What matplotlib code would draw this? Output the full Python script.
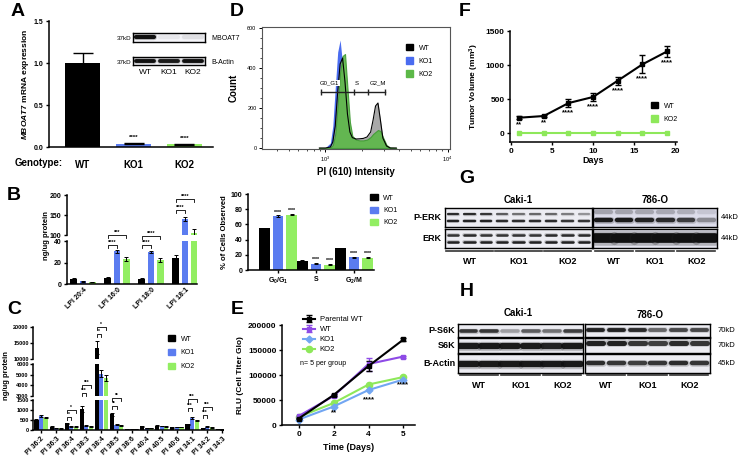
import matplotlib
matplotlib.use("Agg")
import matplotlib.pyplot as plt
import matplotlib.transforms as mtransforms
from matplotlib.patches import Patch
import numpy as np

plt.rcParams["font.family"] = ["Liberation Sans", "DejaVu Sans"]
plt.rcParams["font.weight"] = "bold"
plt.rcParams["axes.labelweight"] = "bold"
plt.rcParams["mathtext.fontset"] = "custom"
plt.rcParams["mathtext.rm"] = "Liberation Sans:bold"
plt.rcParams["mathtext.it"] = "Liberation Sans:bold:italic"
plt.rcParams["mathtext.bf"] = "Liberation Sans:bold"

W, H = 745, 461
WT_C = "#000000"
KO1_C = "#5b7cf0"
KO2_C = "#92ee62"

# ---- A: MBOAT7 mRNA + inset blot
genotypes = ["WT", "KO1", "KO2"]
mboat7_mrna = [1.0, 0.04, 0.03]
mboat7_err = [0.12, 0.01, 0.01]
mboat7_sig = ["", "****", "****"]
blot_a_mboat7 = [1.0, 0.05, 0.08]
blot_a_actin = [1.0, 0.95, 1.0]

# ---- B: LPI species
lpi_species = ["LPI 20:4", "LPI 16:0", "LPI 18:0", "LPI 18:1"]
lpi_wt = [5, 5.5, 5, 24]
lpi_ko1 = [2.5, 30.5, 29.5, 140]
lpi_ko2 = [2, 23, 22.5, 105]
lpi_wt_err = [1, 1, 1, 3]
lpi_ko1_err = [0.5, 1.5, 1, 4]
lpi_ko2_err = [0.3, 2, 2, 10]
lpi_sig_idx = [1, 2, 3]
lpi_sig_inner = ["****", "****", "****"]
lpi_sig_outer = ["***", "****", "****"]

# ---- C: PI species
pi_species = ["PI 36:2", "PI 36:3", "PI 36:4", "PI 38:3", "PI 38:4", "PI 38:5",
              "PI 38:6", "PI 40:4", "PI 40:5", "PI 40:6", "PI 34:1", "PI 34:2", "PI 34:3"]
pi_wt = [520, 170, 330, 1050, 13500, 780, 50, 180, 220, 140, 280, 100, 40]
pi_ko1 = [700, 90, 180, 210, 5100, 260, 50, 110, 200, 150, 600, 170, 30]
pi_ko2 = [620, 80, 160, 190, 4700, 240, 50, 90, 170, 150, 490, 140, 30]
pi_wt_err = [40, 20, 40, 150, 2000, 80, 10, 20, 20, 20, 30, 10, 5]
pi_ko1_err = [30, 10, 20, 20, 300, 20, 5, 10, 20, 20, 40, 20, 5]
pi_ko2_err = [30, 10, 20, 20, 250, 20, 5, 10, 20, 20, 30, 20, 5]
pi_sig_idx = [2, 3, 4, 5, 10, 11]
pi_sig_text = ["*", "***", "*", "**", "***", "***"]

# ---- D: PI histogram (log10 intensity vs count) and cell cycle bars
hist_log_pi = [2.95, 3.00, 3.04, 3.06, 3.08, 3.10, 3.12, 3.14, 3.16, 3.18, 3.20, 3.22, 3.25,
               3.28, 3.31, 3.34, 3.37, 3.39, 3.41, 3.43, 3.45, 3.47, 3.50, 3.53, 3.58]
hist_wt = [0, 0, 5, 30, 110, 280, 420, 450, 330, 170, 80, 52, 45,
           46, 48, 55, 80, 140, 210, 225, 140, 50, 10, 0, 0]
hist_ko1 = [0, 2, 25, 110, 300, 480, 540, 420, 250, 120, 65, 42, 32,
            30, 32, 40, 65, 90, 100, 85, 45, 15, 3, 0, 0]
hist_ko2 = [0, 0, 3, 15, 70, 220, 380, 460, 470, 300, 130, 60, 42,
            38, 38, 42, 55, 70, 80, 90, 85, 55, 15, 2, 0]
gate_names = ["G0_G1", "S", "G2_M"]
gate_edges_log = [2.967, 3.23, 3.352, 3.484]
gate_label_log = [3.03, 3.255, 3.43]
gate_count = 280

phases = [r"G$_0$/G$_1$", "S", r"G$_2$/M"]
cycle_wt = [55, 12, 29]
cycle_ko1 = [71, 8, 17]
cycle_ko2 = [73, 7, 16]
cycle_err = [0.8, 0.6, 0.6]

# ---- E: proliferation
days_e = [0, 2, 4, 5]
rlu_parental = [13000, 60000, 118000, 171000]
rlu_wt = [18000, 58000, 122000, 137000]
rlu_ko1 = [11000, 37000, 70000, 91000]
rlu_ko2 = [16000, 44000, 81000, 96000]
rlu_parental_err = [1000, 2000, 10000, 3000]
rlu_wt_err = [1000, 2000, 13000, 2000]
rlu_sig = ["", "**", "****", "****"]
rlu_sig_y = [0, 24000, 50000, 80000]

# ---- F: tumor volume
days_f = [1, 4, 7, 10, 13, 16, 19]
tumor_wt = [225, 250, 440, 530, 770, 1010, 1200]
tumor_wt_err = [20, 20, 60, 55, 60, 130, 80]
tumor_ko2 = [0, 0, 0, 0, 0, 0, 0]
tumor_sig = ["**", "**", "****", "****", "****", "****", "****"]

# ---- G / H: blot band intensities per lane
g_caki_perk_up = [0.85, 0.85, 0.8, 0.6, 0.5, 0.55, 0.55, 0.45, 0.35]
g_caki_perk_lo = [0.9, 0.9, 0.9, 0.85, 0.85, 0.85, 0.85, 0.8, 0.8]
g_caki_erk_up = [0.8, 0.85, 0.8, 0.8, 0.8, 0.8, 0.85, 0.85, 0.85]
g_caki_erk_lo = [0.9, 0.9, 0.9, 0.9, 0.9, 0.9, 0.9, 0.9, 0.9]
g_786_perk = [0.95, 0.95, 0.9, 0.85, 0.75, 0.35]
g_786_erk = [1.0, 1.0, 1.0, 1.0, 1.0, 1.0]
h_caki_ps6k = [0.8, 0.8, 0.3, 0.6, 0.5, 0.75]
h_caki_s6k = [0.95, 0.95, 0.95, 0.95, 0.9, 0.95]
h_caki_actin = [0.95, 0.95, 0.95, 0.95, 0.95, 0.95]
h_786_ps6k = [0.9, 0.9, 0.85, 0.55, 0.7, 0.7]
h_786_s6k = [0.9, 0.9, 0.8, 0.75, 0.85, 0.8]
h_786_actin = [0.85, 0.8, 0.75, 0.8, 0.85, 0.8]

fig = plt.figure(figsize=(W / 100, H / 100), dpi=100)


def add_ax(left, top, right, bottom):
    ax = fig.add_axes([left / W, 1 - bottom / H, (right - left) / W, (bottom - top) / H])
    ax.patch.set_alpha(0)
    return ax


def fy(py):
    return 1 - py / H


def blend(ax):
    return mtransforms.blended_transform_factory(ax.transData, fig.transFigure)


def prism(ax, fs=5, bottom=True):
    ax.spines[["top", "right"]].set_visible(False)
    for s in ("left", "bottom"):
        ax.spines[s].set_linewidth(1.1)
    ax.tick_params(width=1.0, length=2.5, labelsize=fs, pad=1.5)
    if not bottom:
        ax.spines["bottom"].set_visible(False)
        ax.tick_params(axis="x", length=0, labelbottom=False)


def bracket(ax, x0, x1, py, text, leg=3, fs=4):
    tr = blend(ax)
    ax.plot([x0, x0, x1, x1], [fy(py + leg), fy(py), fy(py), fy(py + leg)],
            color="black", lw=0.6, transform=tr, clip_on=False)
    ax.text((x0 + x1) / 2, fy(py - 0.3), text, ha="center", va="bottom",
            fontsize=fs, transform=tr)


def blot(left, top, right, bottom, rows, bg="#ececf2", half=0.32):
    ax = add_ax(left, top, right, bottom)
    ax.patch.set_alpha(1)
    ax.set_facecolor(bg)
    n = len(rows[0][1])
    ax.set_xlim(-0.5, n - 0.5)
    ax.set_ylim(0, 1)
    ax.set_xticks([])
    ax.set_yticks([])
    for s in ax.spines.values():
        s.set_linewidth(1.0)
    for y, levels, width in rows:
        for i, level in enumerate(levels):
            ax.plot([i - half, i + half], [y, y], color="#222222", lw=width * 1.5,
                    alpha=level * 0.25, solid_capstyle="round")
            ax.plot([i - half, i + half], [y, y], color="#111111", lw=width,
                    alpha=level, solid_capstyle="round")
    return ax


def lane_groups(ax, per_group, labels, line_py, label_py, fs=6.5):
    tr = blend(ax)
    for g, lab in enumerate(labels):
        x0 = g * per_group - 0.42
        x1 = g * per_group + per_group - 1 + 0.42
        ax.plot([x0, x1], [fy(line_py)] * 2, color="#333333", lw=1.2,
                transform=tr, clip_on=False)
        ax.text((x0 + x1) / 2, fy(label_py), lab, ha="center", va="center",
                fontsize=fs, transform=tr)


def grouped_bars(ax, x, series, errs, width, offset):
    colors = [WT_C, KO1_C, KO2_C]
    for k, (vals, err) in enumerate(zip(series, errs)):
        ax.bar(x + (k - 1) * offset, vals, width=width, color=colors[k],
               yerr=err, error_kw=dict(elinewidth=0.7, capsize=1.2, capthick=0.7, ecolor="black"))


# ================= A =================
axA = add_ax(49, 21, 213, 147)
xa = np.arange(len(genotypes))
axA.bar(xa, mboat7_mrna, width=0.69, color=[WT_C, KO1_C, KO2_C],
        yerr=mboat7_err, error_kw=dict(elinewidth=1.0, capsize=7, capthick=1.0))
for i, s in enumerate(mboat7_sig):
    if s:
        axA.text(i, mboat7_mrna[i] + mboat7_err[i] + 0.03, s, ha="center", va="bottom", fontsize=4.5)
prism(axA, fs=5)
axA.set_xlim(-0.66, 2.56)
axA.set_ylim(0, 1.5)
axA.set_yticks([0, 0.5, 1.0, 1.5])
axA.set_yticklabels(["0.0", "0.5", "1.0", "1.5"])
axA.set_xticks(xa)
axA.set_xticklabels(genotypes, fontsize=7)
axA.tick_params(axis="x", length=0, pad=9)
axA.set_ylabel(r"$\it{MBOAT7}$ mRNA expression", fontsize=6, labelpad=2)
fig.text(15 / W, fy(163), "Genotype:", fontsize=7, va="center")

ba1 = blot(133, 33, 205, 42, [(0.5, blot_a_mboat7, 3.0)], bg="#f6f6fa", half=0.36)
ba2 = blot(133, 57, 205, 65, [(0.5, blot_a_actin, 2.8)], bg="#f6f6fa", half=0.36)
fig.text(131 / W, fy(38), "37kD", fontsize=4.5, ha="right", va="center", weight="normal")
fig.text(131 / W, fy(62), "37kD", fontsize=4.5, ha="right", va="center", weight="normal")
fig.text(211 / W, fy(38), "MBOAT7", fontsize=5, va="center", weight="normal")
fig.text(211 / W, fy(62), "B-Actin", fontsize=5, va="center", weight="normal")
for i, g in enumerate(genotypes):
    ba2.text(i, fy(73), g, transform=blend(ba2), ha="center", va="center", fontsize=6, weight="normal")

# ================= B =================
xb = np.arange(len(lpi_species))
axBt = add_ax(67, 195, 197, 235)
axBb = add_ax(67, 241, 197, 284)
for ax in (axBt, axBb):
    grouped_bars(ax, xb, [lpi_wt, lpi_ko1, lpi_ko2], [lpi_wt_err, lpi_ko1_err, lpi_ko2_err], 0.2, 0.27)
    ax.set_xlim(-0.47, 3.35)
prism(axBt, fs=5, bottom=False)
prism(axBb, fs=5)
axBt.set_ylim(100, 200)
axBt.set_yticks([100, 150, 200])
axBb.set_ylim(0, 40)
axBb.set_yticks([0, 20, 40])
axBb.set_xticks(xb)
axBb.set_xticklabels(lpi_species, rotation=45, ha="right", rotation_mode="anchor", fontsize=5)
axBb.tick_params(axis="x", length=0)
fig.text(46 / W, fy(236), "ng/ug protein", rotation=90, fontsize=5.5, ha="center", va="center")
b_inner_py = [245, 245, 210]
b_outer_py = [235, 236, 199]
for j, gi in enumerate(lpi_sig_idx):
    bracket(axBb, gi - 0.27, gi, b_inner_py[j], lpi_sig_inner[j])
    bracket(axBb, gi - 0.27, gi + 0.27, b_outer_py[j], lpi_sig_outer[j])

# ================= C =================
xc = np.arange(len(pi_species))
axCt = add_ax(33, 327, 223, 359)
axCm = add_ax(33, 364, 223, 396)
axCb = add_ax(33, 400, 223, 430)
for ax in (axCt, axCm, axCb):
    grouped_bars(ax, xc, [pi_wt, pi_ko1, pi_ko2], [pi_wt_err, pi_ko1_err, pi_ko2_err], 0.27, 0.3)
    ax.set_xlim(-0.53, 12.05)
prism(axCt, fs=4, bottom=False)
prism(axCm, fs=4, bottom=False)
prism(axCb, fs=4)
for ax in (axCt, axCm, axCb):
    ax.tick_params(axis="y", pad=1, length=2)
axCt.set_ylim(10000, 20000)
axCt.set_yticks([10000, 15000, 20000])
axCm.set_ylim(3000, 6000)
axCm.set_yticks([3000, 4000, 5000, 6000])
axCb.set_ylim(0, 1500)
axCb.set_yticks([0, 500, 1000, 1500])
axCb.set_xticks(xc)
axCb.set_xticklabels(pi_species, rotation=45, ha="right", rotation_mode="anchor", fontsize=5)
fig.text(6 / W, fy(376), "ng/ug protein", rotation=90, fontsize=5.5, ha="center", va="center")
c_inner_py = [417, 393, 334, 406, 408, 415]
c_outer_py = [410, 385, 327, 398, 399, 407]
for j, gi in enumerate(pi_sig_idx):
    bracket(axCb, gi - 0.3, gi, c_inner_py[j], pi_sig_text[j], leg=2.5, fs=3.5)
    bracket(axCb, gi - 0.3, gi + 0.3, c_outer_py[j], pi_sig_text[j], leg=2.5, fs=3.5)
axCt.legend(handles=[Patch(color=c) for c in (WT_C, KO1_C, KO2_C)], labels=genotypes,
            loc="upper left", bbox_to_anchor=(162 / W, fy(329)), bbox_transform=fig.transFigure,
            frameon=False, handlelength=1.0, handleheight=1.0, labelspacing=0.9,
            prop=dict(weight="normal", size=5))

# ================= D histogram =================
axD = add_ax(262, 27, 450, 149)
xh = 10 ** np.array(hist_log_pi)
axD.fill_between(xh, hist_ko1, color="#4a6cf0", lw=0)
axD.fill_between(xh, hist_wt, color="#a9a9a9", lw=0)
axD.fill_between(xh, hist_ko2, color="#5cb848", alpha=0.9, lw=0.8, edgecolor="#3f9a33")
axD.plot(xh, hist_wt, color="black", lw=0.8)
axD.set_xscale("log")
axD.set_xlim(10 ** 2.48, 10 ** 4.02)
axD.set_ylim(-5, 605)
axD.set_yticks([0, 200, 400, 600])
axD.set_yticks(np.arange(0, 601, 50), minor=True)
for s in axD.spines.values():
    s.set_linewidth(0.8)
    s.set_color("#555555")
axD.tick_params(labelsize=4, width=0.7, length=2.5, pad=1.5)
axD.tick_params(which="minor", width=0.5, length=1.5)
for lab in axD.get_xticklabels() + axD.get_yticklabels():
    lab.set_fontweight("normal")
gx = 10 ** np.array(gate_edges_log)
axD.plot(gx, [gate_count] * len(gx), color="#222222", lw=1.0, marker="|", ms=5, mew=1.0)
for name, lg in zip(gate_names, gate_label_log):
    axD.text(10 ** lg, gate_count + 45, name, ha="center", va="center", fontsize=4.3,
             weight="normal", bbox=dict(facecolor="white", edgecolor="none", pad=0.5))
axD.set_ylabel("Count", fontsize=7, labelpad=6)
axD.set_xlabel("PI (610) Intensity", fontsize=7, labelpad=2)
axD.legend(handles=[Patch(color="black"), Patch(color="#4a6cf0"), Patch(color="#5cb848")],
           labels=genotypes, loc="upper left", bbox_to_anchor=(400 / W, fy(38)),
           bbox_transform=fig.transFigure, frameon=False, handlelength=1.0, handleheight=1.0,
           labelspacing=0.8, prop=dict(weight="normal", size=5))

# ================= D cell cycle bars =================
axDb = add_ax(248, 194, 374, 270)
xd = np.arange(len(phases))
grouped_bars(axDb, xd, [cycle_wt, cycle_ko1, cycle_ko2], [cycle_err] * 3, 0.28, 0.36)
for k, vals in enumerate([cycle_ko1, cycle_ko2]):
    for i, v in enumerate(vals):
        axDb.text(i + k * 0.36, v + 2, "****", ha="center", va="bottom", fontsize=3.8)
prism(axDb, fs=5)
axDb.set_xlim(-0.79, 2.53)
axDb.set_ylim(0, 100)
axDb.set_yticks(range(0, 101, 20))
axDb.set_xticks(xd)
axDb.set_xticklabels(phases, fontsize=5)
axDb.set_ylabel("% of Cells Observed", fontsize=5.5, labelpad=2)
axDb.legend(handles=[Patch(color=c) for c in (WT_C, KO1_C, KO2_C)], labels=genotypes,
            loc="upper left", bbox_to_anchor=(364 / W, fy(188)), bbox_transform=fig.transFigure,
            frameon=False, handlelength=1.1, handleheight=1.0, labelspacing=0.7,
            prop=dict(weight="normal", size=5))

# ================= E =================
axE = add_ax(282, 325, 415, 425)
xe = np.arange(len(days_e))
axE.plot(xe, rlu_ko2, color="#8ee85a", lw=1.5, marker="o", ms=4.5, label="KO2")
axE.plot(xe, rlu_ko1, color="#72a6f2", lw=1.5, marker="D", ms=3.5, label="KO1")
axE.errorbar(xe, rlu_wt, yerr=rlu_wt_err, color="#8e4be6", lw=1.5, marker="s", ms=3.5,
             capsize=2.5, elinewidth=1.0, label="WT")
axE.errorbar(xe, rlu_parental, yerr=rlu_parental_err, color="black", lw=1.5, marker="s", ms=3,
             capsize=2.5, elinewidth=1.0, label="Parental WT")
for i, s in enumerate(rlu_sig):
    if s:
        axE.text(i, rlu_sig_y[i], s, ha="center", va="center", fontsize=5.5)
prism(axE, fs=6)
axE.set_xlim(-0.48, 3.33)
axE.set_ylim(0, 200000)
axE.set_yticks(range(0, 200001, 50000))
axE.set_xticks(xe)
axE.set_xticklabels([str(d) for d in days_e])
axE.set_ylabel("RLU (Cell Titer Glo)", fontsize=6, labelpad=3)
axE.set_xlabel("Time (Days)", fontsize=6.5, labelpad=4)
h_e, l_e = axE.get_legend_handles_labels()
order = [3, 2, 1, 0]
axE.legend([h_e[i] for i in order], [l_e[i] for i in order], loc="upper left",
           bbox_to_anchor=(296 / W, fy(309)), bbox_transform=fig.transFigure, frameon=False,
           handlelength=1.6, labelspacing=0.35, handletextpad=0.6,
           prop=dict(weight="normal", size=5.5))
fig.text(300 / W, fy(363), "n= 5 per group", fontsize=5, va="center", weight="normal")

# ================= F =================
axF = add_ax(510, 31, 677, 142)
axF.errorbar(days_f, tumor_wt, yerr=tumor_wt_err, color="black", lw=1.5, marker="s", ms=3,
             capsize=2.5, elinewidth=1.0, label="WT")
axF.plot(days_f, tumor_ko2, color="#8ee85a", lw=1.5, marker="s", ms=3, label="KO2")
for d, v, e, s in zip(days_f, tumor_wt, tumor_wt_err, tumor_sig):
    axF.text(d, v - e - 30, s, ha="center", va="top", fontsize=5.5)
prism(axF, fs=6)
axF.set_xlim(-0.1, 20.2)
axF.set_ylim(-132, 1500)
axF.set_yticks([0, 500, 1000, 1500])
axF.set_xticks([0, 5, 10, 15, 20])
axF.set_ylabel(r"Tumor Volume (mm$^3$)", fontsize=6, labelpad=3)
axF.set_xlabel("Days", fontsize=6.5, labelpad=1)
axF.legend(handles=[Patch(color="black"), Patch(color="#8ee85a")], labels=["WT", "KO2"],
           loc="upper left", bbox_to_anchor=(645 / W, fy(96)), bbox_transform=fig.transFigure,
           frameon=False, handlelength=1.0, handleheight=1.0, labelspacing=0.8,
           prop=dict(weight="normal", size=5))

# ================= G =================
gc1 = blot(445, 208, 592, 227, [(0.68, g_caki_perk_up, 1.6), (0.32, g_caki_perk_lo, 1.7)])
gc2 = blot(445, 229, 592, 248, [(0.7, g_caki_erk_up, 1.8), (0.3, g_caki_erk_lo, 1.8)])
go1 = blot(593, 208, 717, 227, [(0.78, [v * 0.25 for v in g_786_perk], 3.0),
                                (0.38, g_786_perk, 3.2)], bg="#dcdcea", half=0.36)
go2 = blot(593, 229, 717, 248, [(0.5, g_786_erk, 7.0)], bg="#e4e4ee", half=0.4)
lane_groups(gc2, 3, genotypes, 251, 261)
lane_groups(go2, 2, genotypes, 251, 261)
fig.text(518 / W, fy(200), "Caki-1", fontsize=7, ha="center", va="center")
fig.text(655 / W, fy(200), "786-O", fontsize=7, ha="center", va="center")
fig.text(441 / W, fy(217), "P-ERK", fontsize=6.5, ha="right", va="center")
fig.text(441 / W, fy(238), "ERK", fontsize=6.5, ha="right", va="center")
for py in (217, 238):
    fig.text(721 / W, fy(py), "44kD", fontsize=5.5, va="center", weight="normal")

# ================= H =================
hc1 = blot(458, 324, 583, 337, [(0.5, h_caki_ps6k, 2.6)], half=0.38)
hc2 = blot(458, 338, 583, 353, [(0.5, h_caki_s6k, 4.5)], half=0.4)
hc3 = blot(458, 354, 583, 373, [(0.5, h_caki_actin, 4.5)], half=0.42)
ho1 = blot(585, 324, 710, 337, [(0.55, h_786_ps6k, 2.8)], half=0.36)
ho2 = blot(585, 338, 710, 353, [(0.65, h_786_s6k, 3.6)], half=0.36)
ho3 = blot(585, 354, 710, 373, [(0.55, h_786_actin, 3.2)], half=0.36)
lane_groups(hc3, 2, genotypes, 375, 385)
lane_groups(ho3, 2, genotypes, 375, 385)
fig.text(518 / W, fy(313), "Caki-1", fontsize=7, ha="center", va="center")
fig.text(650 / W, fy(315), "786-O", fontsize=7, ha="center", va="center")
for lab, py in (("P-S6K", 330), ("S6K", 345), ("B-Actin", 363)):
    fig.text(455 / W, fy(py), lab, fontsize=6.5, ha="right", va="center")
for lab, py in (("70kD", 330), ("70kD", 345), ("45kD", 363)):
    fig.text(718 / W, fy(py), lab, fontsize=5.5, va="center", weight="normal")

# ================= panel letters =================
for letter, px, py in (("A", 18, 12), ("B", 14, 196), ("C", 14, 309), ("D", 237, 11),
                       ("E", 237, 309), ("F", 465, 11), ("G", 467, 178), ("H", 467, 291)):
    fig.text(px / W, fy(py), letter, fontsize=14, ha="center", va="center")

fig.savefig("out.png", dpi=100)
